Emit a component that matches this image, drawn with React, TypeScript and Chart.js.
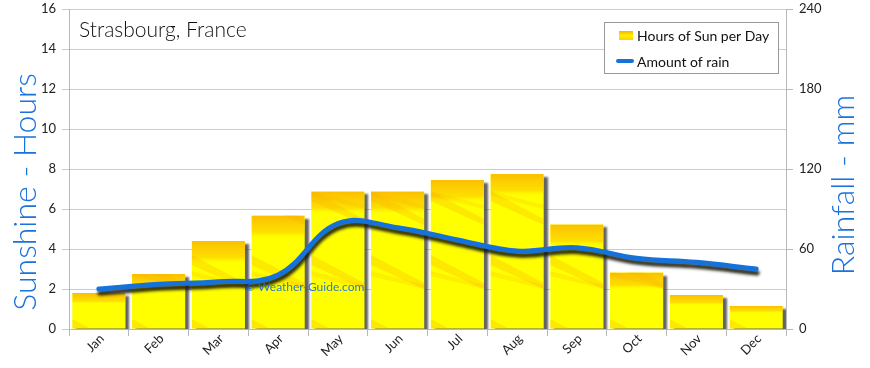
import React, { useEffect, useRef } from "react";
import { Chart, registerables } from "chart.js";

Chart.register(...registerables);

const months = ["Jan", "Feb", "Mar", "Apr", "May", "Jun", "Jul", "Aug", "Sep", "Oct", "Nov", "Dec"];
const sunHours = [1.8, 2.75, 4.4, 5.67, 6.88, 6.88, 7.45, 7.75, 5.23, 2.82, 1.7, 1.15];
const rainMm = [30, 33.5, 35.5, 40.5, 79, 76, 66.8, 58.5, 61, 53, 50, 45];
const hourTicks = [0, 2, 4, 6, 8, 10, 12, 14, 16];
const rainTicks = [0, 60, 120, 180, 240];

const FONT = "Lato, 'Open Sans', sans-serif";
const BLUE = "#1672d8";
const TEXT_BLUE = "#1a72dc";

const shadowPlugin = {
  id: "shadows",
  beforeDatasetDraw(chart: any, args: any) {
    const ctx = chart.ctx;
    ctx.save();
    if (args.meta.type === "bar") {
      ctx.shadowColor = "rgba(60,60,60,0.8)";
      ctx.shadowOffsetX = 4;
      ctx.shadowOffsetY = 3;
      ctx.shadowBlur = 2;
    } else {
      ctx.shadowColor = "rgba(25,25,10,0.9)";
      ctx.shadowOffsetX = 1;
      ctx.shadowOffsetY = 4;
      ctx.shadowBlur = 3;
    }
  },
  afterDatasetDraw(chart: any, args: any) {
    const ctx = chart.ctx;
    ctx.restore();
    if (args.meta.type !== "bar") return;
    const area = chart.chartArea;
    args.meta.data.forEach((el: any) => {
      const p = el.getProps(["x", "y", "base", "width"], true);
      const left = p.x - p.width / 2;
      const top = p.y;
      const w = p.width;
      const h = p.base - p.y;
      ctx.save();
      ctx.beginPath();
      ctx.rect(left, top, w, h);
      ctx.clip();
      const bandH = Math.min(22, h * 0.3);
      const g = ctx.createLinearGradient(0, top, 0, top + bandH);
      g.addColorStop(0, "rgba(250,175,0,0.8)");
      g.addColorStop(0.75, "rgba(252,190,0,0.5)");
      g.addColorStop(1, "rgba(255,230,0,0.0)");
      ctx.fillStyle = g;
      ctx.fillRect(left, top, w, bandH);
      ctx.fillStyle = "rgba(250,180,0,0.3)";
      const span = area.bottom - area.top;
      for (let k = 0; k < 6; k++) {
        const y0 = area.top + (k * span) / 5 - 10;
        ctx.beginPath();
        ctx.moveTo(left, y0);
        ctx.lineTo(left + w, y0 + 28);
        ctx.lineTo(left + w, y0 + 34);
        ctx.lineTo(left, y0 + 10);
        ctx.closePath();
        ctx.fill();
      }
      ctx.fillStyle = "rgba(250,175,0,0.2)";
      for (let k = 0; k < 5; k++) {
        const y0 = area.top + (k * span) / 4 + 22;
        ctx.beginPath();
        ctx.moveTo(left, y0);
        ctx.lineTo(left + w, y0 + 14);
        ctx.lineTo(left + w, y0 + 18);
        ctx.lineTo(left, y0 + 5);
        ctx.closePath();
        ctx.fill();
      }
      ctx.restore();
    });
  },
};

const decorPlugin = {
  id: "decor",
  afterDraw(chart: any) {
    const ctx = chart.ctx;
    ctx.save();
    ctx.fillStyle = "#111";
    ctx.font = `300 21px ${FONT}`;
    ctx.textAlign = "left";
    ctx.textBaseline = "alphabetic";
    ctx.fillText("Strasbourg, France", 79, 37);

    ctx.fillStyle = "rgba(20,110,215,0.9)";
    ctx.font = `12px ${FONT}`;
    ctx.textBaseline = "middle";
    ctx.fillText("© Weather-Guide.com", 245, 287);

    ctx.fillStyle = TEXT_BLUE;
    ctx.font = `300 32px ${FONT}`;
    ctx.textAlign = "center";
    ctx.textBaseline = "alphabetic";
    ctx.save();
    ctx.translate(36, 192);
    ctx.rotate(-Math.PI / 2);
    ctx.fillText("Sunshine - Hours", 0, 0);
    ctx.restore();
    ctx.save();
    ctx.translate(854, 185);
    ctx.rotate(-Math.PI / 2);
    ctx.fillText("Rainfall - mm", 0, 0);
    ctx.restore();

    ctx.fillStyle = "#fff";
    ctx.fillRect(604.5, 22.5, 174, 51);
    ctx.strokeStyle = "#999";
    ctx.lineWidth = 1;
    ctx.strokeRect(604.5, 22.5, 174, 51);
    const ds = chart.data.datasets;
    const sg = ctx.createLinearGradient(0, 31, 0, 40);
    sg.addColorStop(0, "#f6b400");
    sg.addColorStop(0.5, "#ffee00");
    sg.addColorStop(1, "#ffd000");
    ctx.fillStyle = sg;
    ctx.fillRect(619, 31, 14, 9);
    ctx.strokeStyle = BLUE;
    ctx.lineWidth = 4;
    ctx.lineCap = "round";
    ctx.beginPath();
    ctx.moveTo(618, 61);
    ctx.lineTo(632, 61);
    ctx.stroke();
    ctx.fillStyle = "#111";
    ctx.font = `14px ${FONT}`;
    ctx.textAlign = "left";
    ctx.textBaseline = "middle";
    ctx.fillText(ds[0].label, 637, 36);
    ctx.fillText(ds[1].label, 637, 62);
    ctx.restore();
  },
};

const fixVertical = (width: number) => (s: any) => {
  s.width = width;
  s.paddingTop = 0;
  s.paddingBottom = 0;
};

export default function App() {
  const ref = useRef<HTMLCanvasElement | null>(null);
  useEffect(() => {
    document.body.style.margin = "0";
    if (!ref.current) return;
    const chart = new Chart(ref.current, {
      type: "bar",
      data: {
        labels: months,
        datasets: [
          {
            type: "bar",
            label: "Hours of Sun per Day",
            data: sunHours,
            yAxisID: "y",
            backgroundColor: "#ffff00",
            borderWidth: 0,
            barPercentage: 0.89,
            categoryPercentage: 1,
            order: 1,
          },
          {
            type: "line",
            label: "Amount of rain",
            data: rainMm,
            yAxisID: "y1",
            borderColor: BLUE,
            borderWidth: 5,
            tension: 0.4,
            pointRadius: 0,
            fill: false,
            order: 0,
            borderCapStyle: "round",
          } as any,
        ],
      },
      options: {
        responsive: false,
        animation: false,
        layout: { padding: { top: 9, left: 0, right: 0, bottom: 0 } },
        plugins: { legend: { display: false }, tooltip: { enabled: false }, title: { display: false } },
        scales: {
          x: {
            grid: { offset: true, drawOnChartArea: false, color: "#b8b8b8", tickLength: 7 },
            border: { color: "#b8b8b8" },
            ticks: {
              color: "#222",
              font: { family: FONT, size: 13 },
              minRotation: 45,
              maxRotation: 45,
              padding: -5,
              labelOffset: 3,
            },
            afterFit: (s: any) => {
              s.height = 39;
              s.paddingLeft = 0;
              s.paddingRight = 0;
            },
          },
          y: {
            position: "left",
            min: 0,
            max: 16,
            afterBuildTicks: (s: any) => {
              s.ticks = hourTicks.map((v) => ({ value: v }));
            },
            grid: { color: "#cccccc", tickLength: 7 },
            border: { color: "#b8b8b8" },
            ticks: { color: "#222", font: { family: FONT, size: 13 }, padding: 6 },
            afterFit: fixVertical(69),
          },
          y1: {
            position: "right",
            min: 0,
            max: 240,
            afterBuildTicks: (s: any) => {
              s.ticks = rainTicks.map((v) => ({ value: v }));
            },
            grid: { drawOnChartArea: false, color: "#b8b8b8", tickLength: 7 },
            border: { color: "#b8b8b8" },
            ticks: { color: "#222", font: { family: FONT, size: 13 }, padding: 6 },
            afterFit: fixVertical(84),
          },
        },
      },
      plugins: [shadowPlugin, decorPlugin],
    });
    return () => chart.destroy();
  }, []);
  return (
    <div style={{ width: 870, height: 368 }}>
      <canvas ref={ref} width={870} height={368} />
    </div>
  );
}
